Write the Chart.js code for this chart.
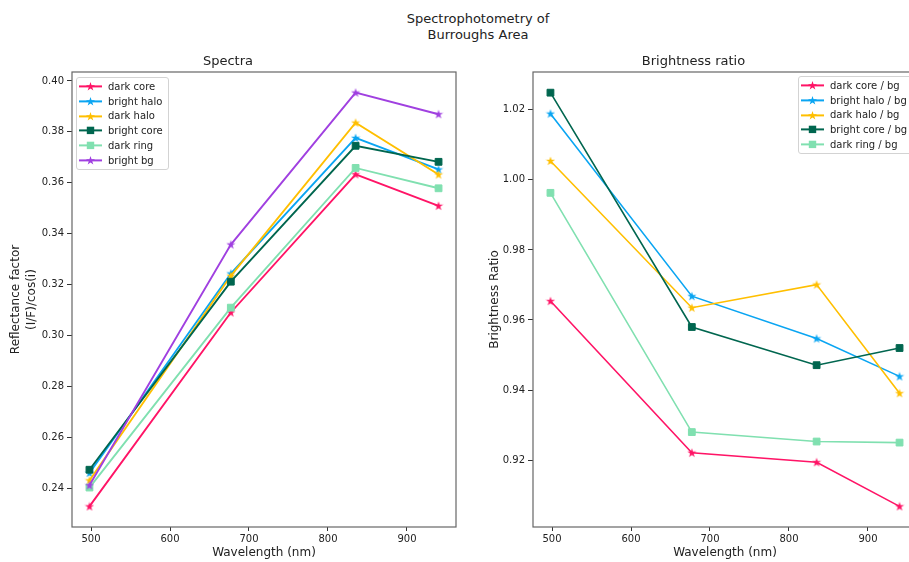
<!DOCTYPE html>
<html>
<head>
<meta charset="utf-8">
<script src="https://cdn.jsdelivr.net/npm/chart.js@4.4.1/dist/chart.umd.min.js"></script>
<style>
body { margin: 0; overflow: hidden; background: #fff; font-family: "DejaVu Sans", sans-serif; }
#fig { position: relative; width: 956px; height: 562px; }
#suptitle { position: absolute; left: 0; top: 11px; width: 956px; text-align: center; font-size: 13px; line-height: 16px; color: #222; }
canvas { position: absolute; top: 40px; }
#c1 { left: 0; }
#c2 { left: 470px; }
.legend { position: absolute; border: 1px solid #d3d3d3; border-radius: 3px; background: rgba(255,255,255,0.85); padding: 1px 5px 1px 2px; font-size: 10px; color: #222; }
.legend div { height: 14.8px; display: flex; align-items: center; white-space: nowrap; }
.legend svg { margin-right: 6px; }
</style>
</head>
<body>
<div id="fig">
  <div id="suptitle">Spectrophotometry of<br>Burroughs Area</div>
  <canvas id="c1" width="470" height="522"></canvas>
  <canvas id="c2" width="486" height="522"></canvas>
  <div class="legend" id="leg1" style="left:76px; top:77px;"></div>
  <div class="legend" id="leg2" style="left:798px; top:76px;"></div>
</div>
<script>
// wavelengths of the filters (nm)
const wavelengths = [498, 677, 835, 940];

// Spectra, reflectance factor (I/F)/cos(i)
const specNames = ['dark core', 'bright halo', 'dark halo', 'bright core', 'dark ring', 'bright bg'];
const darkCore   = [0.2328, 0.3090, 0.3633, 0.3509];
const brightHalo = [0.2459, 0.3243, 0.3776, 0.3652];
const darkHalo   = [0.2430, 0.3234, 0.3836, 0.3632];
const brightCore = [0.2472, 0.3211, 0.3745, 0.3682];
const darkRing   = [0.2402, 0.3109, 0.3658, 0.3578];
const brightBg   = [0.2411, 0.3357, 0.3954, 0.3869];

// Brightness ratio to bright bg
const ratioNames = ['dark core / bg', 'bright halo / bg', 'dark halo / bg', 'bright core / bg', 'dark ring / bg'];
const darkCoreR   = [0.9654, 0.9221, 0.9194, 0.9068];
const brightHaloR = [1.0189, 0.9668, 0.9547, 0.9439];
const darkHaloR   = [1.0054, 0.9635, 0.9701, 0.9391];
const brightCoreR = [1.0249, 0.9580, 0.9471, 0.9520];
const darkRingR   = [0.9963, 0.9280, 0.9253, 0.9250];

const colors  = ['#ff1466', '#0aa5f2', '#ffbf00', '#00664f', '#80e0b0', '#a040e0'];
const markers = ['star', 'star', 'star', 'square', 'square', 'star'];

function starPoints(cx, cy, R) {
  const pts = [];
  for (let k = 0; k < 10; k++) {
    const a = -Math.PI / 2 + k * Math.PI / 5;
    const rad = k % 2 ? R * 0.382 : R;
    pts.push([cx + rad * Math.cos(a), cy + rad * Math.sin(a)]);
  }
  return pts;
}

function starImage(color) {
  const c = document.createElement('canvas');
  c.width = 10; c.height = 10;
  const g = c.getContext('2d');
  g.beginPath();
  starPoints(5, 5.3, 4.8).forEach((p, i) => i ? g.lineTo(p[0], p[1]) : g.moveTo(p[0], p[1]));
  g.closePath();
  g.fillStyle = color;
  g.fill();
  return c;
}

function makeDataset(name, values, i, lw) {
  const star = markers[i] === 'star';
  return {
    label: name,
    data: wavelengths.map((w, k) => ({ x: w, y: values[k] })),
    borderColor: colors[i],
    backgroundColor: colors[i],
    borderWidth: lw,
    pointStyle: star ? starImage(colors[i]) : 'rect',
    pointRadius: star ? 4 : 4.8,
    pointBorderWidth: 1,
    pointBackgroundColor: colors[i],
    pointBorderColor: colors[i],
    tension: 0,
    order: 10 - i
  };
}

const frame = {
  id: 'frame',
  afterDatasetsDraw(chart) {
    const a = chart.chartArea;
    const ctx = chart.ctx;
    ctx.save();
    ctx.strokeStyle = '#666';
    ctx.lineWidth = 1.2;
    ctx.strokeRect(a.left, a.top, a.right - a.left, a.bottom - a.top);
    ctx.restore();
  }
};

function makeOptions(title, yTitle, yMin, yMax, yWidth, yTitlePad, padRight) {
  return {
    responsive: false,
    animation: false,
    layout: { padding: { left: 0, right: padRight, top: 0, bottom: 0 } },
    plugins: {
      legend: { display: false },
      tooltip: { enabled: false },
      title: {
        display: true,
        text: title,
        color: '#222',
        font: { family: 'DejaVu Sans', size: 13, weight: 'normal' },
        padding: { top: 14, bottom: 2.4 }
      }
    },
    scales: {
      x: {
        type: 'linear',
        min: 475.9,
        max: 962.1,
        afterFit(s) { s.height = 35; },
        border: { display: false },
        grid: { drawOnChartArea: false, tickLength: 4, tickColor: '#333' },
        ticks: { stepSize: 100, includeBounds: false, padding: 2, color: '#222',
                 font: { family: 'DejaVu Sans', size: 10 } },
        title: { display: true, text: 'Wavelength (nm)', color: '#222',
                 font: { family: 'DejaVu Sans', size: 12 }, padding: { top: 0, bottom: 1.5 } }
      },
      y: {
        type: 'linear',
        min: yMin,
        max: yMax,
        afterFit(s) { s.width = yWidth; },
        border: { display: false },
        grid: { drawOnChartArea: false, tickLength: 5, tickColor: '#333' },
        ticks: { stepSize: 0.02, includeBounds: false, padding: 3, color: '#222',
                 font: { family: 'DejaVu Sans', size: 10 },
                 callback: v => v.toFixed(2) },
        title: { display: true, text: yTitle, color: '#222',
                 font: { family: 'DejaVu Sans', size: 12, lineHeight: 1.35 },
                 padding: { top: yTitlePad, bottom: 0 } }
      }
    }
  };
}

const specSeries = [darkCore, brightHalo, darkHalo, brightCore, darkRing, brightBg];
const ratioSeries = [darkCoreR, brightHaloR, darkHaloR, brightCoreR, darkRingR];

const chart1 = new Chart(document.getElementById('c1'), {
  type: 'line',
  data: { datasets: specSeries.map((s, i) => makeDataset(specNames[i], s, i, 1.9)) },
  options: makeOptions('Spectra', ['Reflectance factor', '(I/F)/cos(i)'], 0.2247, 0.4035, 72, 8, 14),
  plugins: [frame]
});

const chart2 = new Chart(document.getElementById('c2'), {
  type: 'line',
  data: { datasets: ratioSeries.map((s, i) => makeDataset(ratioNames[i], s, i, 1.6)) },
  options: makeOptions('Brightness ratio', 'Brightness Ratio', 0.9009, 1.0308, 63, 17, 39),
  plugins: [frame]
});

function legendIcon(i) {
  const c = colors[i];
  let mark;
  if (markers[i] === 'star') {
    const pts = starPoints(11.5, 7.7, 4.8).map(p => p[0].toFixed(2) + ',' + p[1].toFixed(2)).join(' ');
    mark = '<polygon points="' + pts + '" fill="' + c + '"/>';
  } else {
    mark = '<rect x="7.8" y="3.7" width="7.4" height="7.4" fill="' + c + '"/>';
  }
  return '<svg width="23" height="14.8"><line x1="0" y1="7.4" x2="23" y2="7.4" stroke="' + c +
         '" stroke-width="2"/>' + mark + '</svg>';
}

function buildLegend(id, names) {
  document.getElementById(id).innerHTML = names.map((n, i) =>
    '<div>' + legendIcon(i) + '<span>' + n + '</span></div>').join('');
}
buildLegend('leg1', specNames);
buildLegend('leg2', ratioNames);
</script>
</body>
</html>
